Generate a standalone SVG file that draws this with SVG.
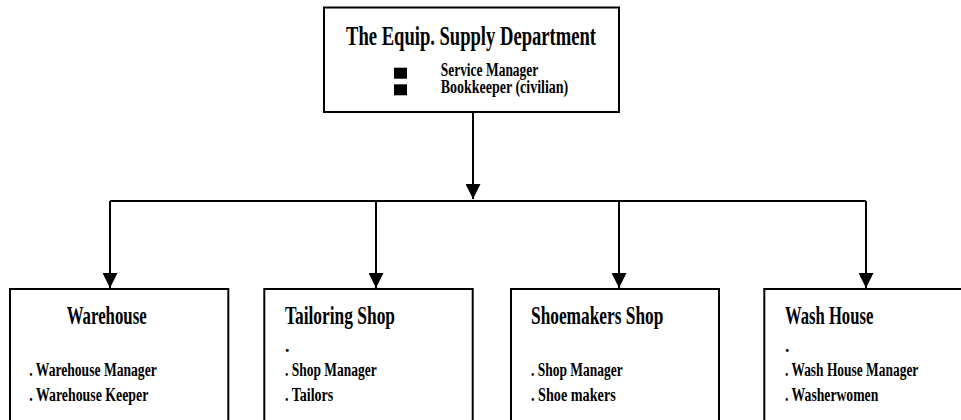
<svg xmlns="http://www.w3.org/2000/svg" width="961" height="420" viewBox="0 0 961 420">
  <style>
    .box { fill: #ffffff; stroke: #000000; stroke-width: 2; }
    .line { fill: none; stroke: #000000; stroke-width: 2; }
    text { font-family: "Liberation Serif", "DejaVu Serif", serif; font-weight: bold; fill: #000000; }
    .title { font-size: 28px; }
    .sub { font-size: 18px; }
    .head { font-size: 25px; }
    .item { font-size: 18px; }
  </style>
  <defs>
    <marker id="arrow" markerUnits="userSpaceOnUse" markerWidth="15" markerHeight="15" refX="15" refY="7.5" orient="auto">
      <path d="M0,0 L15,7.5 L0,15 Z" fill="#000000"/>
    </marker>
  </defs>
  <rect width="961" height="420" fill="#ffffff"/>

  <g id="connectors">
    <path class="line" d="M473,112 V199" marker-end="url(#arrow)"/>
    <path class="line" d="M110,201 H866"/>
    <path class="line" d="M110,201 V288" marker-end="url(#arrow)"/>
    <path class="line" d="M376,201 V288" marker-end="url(#arrow)"/>
    <path class="line" d="M619,201 V288" marker-end="url(#arrow)"/>
    <path class="line" d="M866,201 V288" marker-end="url(#arrow)"/>
  </g>

  <g id="equip-supply-dept">
    <rect class="box" x="324" y="7.5" width="295" height="104.5"/>
    <text class="title" x="346" y="45" textLength="250" lengthAdjust="spacingAndGlyphs">The Equip. Supply Department</text>
    <rect x="394" y="67.7" width="13" height="11" fill="#000000"/>
    <text class="sub" x="440.7" y="76" textLength="97.6" lengthAdjust="spacingAndGlyphs">Service Manager</text>
    <rect x="394" y="84.3" width="13" height="11" fill="#000000"/>
    <text class="sub" x="440.7" y="93.3" textLength="127.6" lengthAdjust="spacingAndGlyphs">Bookkeeper (civilian)</text>
  </g>

  <g id="warehouse">
    <rect class="box" x="10" y="289" width="218.3" height="145"/>
    <text class="head" x="66.7" y="324" textLength="80" lengthAdjust="spacingAndGlyphs">Warehouse</text>
    <text class="item" x="29.3" y="376" textLength="127.4" lengthAdjust="spacingAndGlyphs">. Warehouse Manager</text>
    <text class="item" x="29.3" y="400.7" textLength="119" lengthAdjust="spacingAndGlyphs">. Warehouse Keeper</text>
  </g>

  <g id="tailoring-shop">
    <rect class="box" x="264.3" y="289" width="208.4" height="145"/>
    <text class="head" x="285" y="324" textLength="110" lengthAdjust="spacingAndGlyphs">Tailoring Shop</text>
    <text class="item" x="285" y="352">.</text>
    <text class="item" x="285" y="376" textLength="91.7" lengthAdjust="spacingAndGlyphs">. Shop Manager</text>
    <text class="item" x="285" y="400.7" textLength="48.3" lengthAdjust="spacingAndGlyphs">. Tailors</text>
  </g>

  <g id="shoemakers-shop">
    <rect class="box" x="511" y="289" width="208" height="145"/>
    <text class="head" x="531" y="324" textLength="132.3" lengthAdjust="spacingAndGlyphs">Shoemakers Shop</text>
    <text class="item" x="531" y="376" textLength="91.7" lengthAdjust="spacingAndGlyphs">. Shop Manager</text>
    <text class="item" x="531" y="400.7" textLength="84.7" lengthAdjust="spacingAndGlyphs">. Shoe makers</text>
  </g>

  <g id="wash-house">
    <rect class="box" x="764.3" y="289" width="220" height="145"/>
    <text class="head" x="785" y="324" textLength="88.3" lengthAdjust="spacingAndGlyphs">Wash House</text>
    <text class="item" x="785" y="352">.</text>
    <text class="item" x="785" y="376" textLength="133.3" lengthAdjust="spacingAndGlyphs">. Wash House Manager</text>
    <text class="item" x="785" y="400.7" textLength="93.3" lengthAdjust="spacingAndGlyphs">. Washerwomen</text>
  </g>
</svg>
